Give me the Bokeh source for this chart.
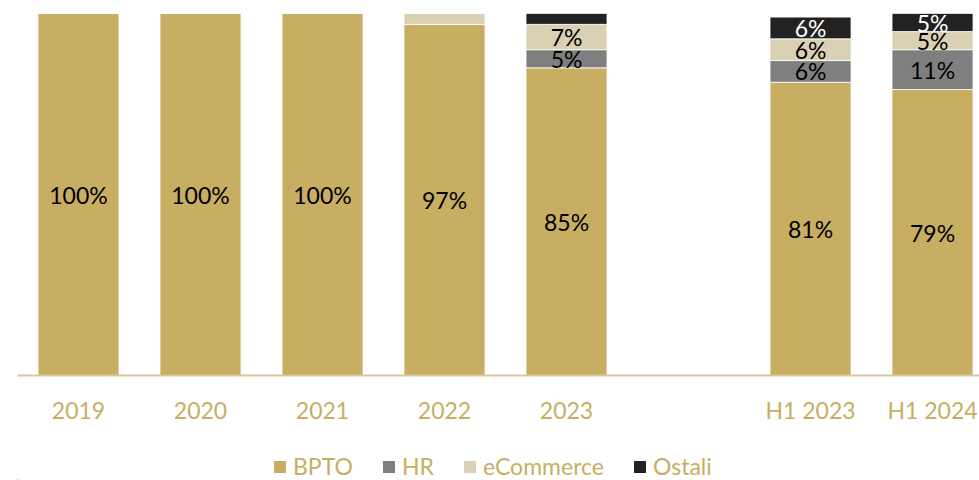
from bokeh.plotting import figure
from bokeh.layouts import column
from bokeh.models import (ColumnDataSource, Range1d, FixedTicker, Legend, LegendItem)
from bokeh.core.properties import value
from bokeh.embed import file_html
from bokeh.resources import INLINE

# Revenue structure by business line (% share)
periods = ["2019", "2020", "2021", "2022", "2023", "H1 2023", "H1 2024"]
slots = [0, 1, 2, 3, 4, 6, 7]          # slot 5 left empty between annual and half-year bars
bpto = [100, 100, 100, 97, 85, 81, 79]
hr = [0, 0, 0, 0, 5, 6, 11]
ecommerce = [0, 0, 0, 3, 7, 6, 5]
ostali = [0, 0, 0, 0, 3, 6, 5]

series = ["BPTO", "HR", "eCommerce", "Ostali"]
values = [bpto, hr, ecommerce, ostali]
colors = ["#C8AE62", "#7F7F7F", "#DAD0B3", "#222222"]
text_colors = ["black", "black", "black", "white"]

GOLD = "#C8AE62"
FONT = "Lato"

src = ColumnDataSource(dict(x=slots, **{s: v for s, v in zip(series, values)}))

p = figure(width=979, height=440,
           x_range=Range1d(-0.5, 7.385), y_range=Range1d(0, 100),
           y_axis_location=None, output_backend="svg", toolbar_location=None,
           min_border_left=17, min_border_right=0, min_border_top=13,
           min_border_bottom=65)
p.outline_line_color = None
p.xgrid.visible = False
p.ygrid.visible = False
p.background_fill_color = "white"
p.border_fill_color = "white"

p.vbar_stack(series, x="x", width=0.664, source=src,
             fill_color=colors, line_color="white", line_width=0.8)

# segment labels, centred in each segment, shown for shares of 5% and above
lx, ly, lt, lc = [], [], [], []
for i, x in enumerate(slots):
    base = 0
    for vals, tc in zip(values, text_colors):
        v = vals[i]
        if v >= 5:
            lx.append(x)
            ly.append(base + v / 2)
            lt.append(f"{v}%")
            lc.append(tc)
        base += v
p.text(x=lx, y=ly, text=lt, text_color=lc, text_align="center",
       text_baseline="middle", text_font=value(FONT), text_font_size="23px")

ax = p.xaxis[0]
ax.ticker = FixedTicker(ticks=slots)
ax.major_label_overrides = {s: lab for s, lab in zip(slots, periods)}
ax.major_tick_line_color = None
ax.minor_tick_line_color = None
ax.axis_line_color = "#D8C79A"
ax.axis_line_width = 2
ax.major_label_standoff = 14
ax.major_label_text_font = FONT
ax.major_label_text_font_size = "23px"
ax.major_label_text_color = GOLD

# legend strip underneath the chart (swatch renderers sit outside the visible range)
lg = figure(width=979, height=40, x_range=Range1d(0, 979), y_range=Range1d(0, 40),
            x_axis_location=None, y_axis_location=None,
            output_backend="svg", toolbar_location=None,
            min_border_left=0, min_border_right=0, min_border_top=0, min_border_bottom=0)
lg.outline_line_color = None
lg.xgrid.visible = False
lg.ygrid.visible = False
swatches = [lg.vbar(x=[-100], top=[1], width=1, fill_color=c, line_color=None)
            for c in colors]
legend = Legend(items=[LegendItem(label=s, renderers=[r]) for s, r in zip(series, swatches)],
                orientation="horizontal", location=(255, 0),
                glyph_width=15, glyph_height=15, label_standoff=6, spacing=28,
                label_text_font=FONT, label_text_font_size="23px",
                label_text_color=GOLD, border_line_color=None,
                background_fill_alpha=0, padding=0, margin=0)
lg.add_layout(legend, "center")

open("out.html", "w").write(file_html(column(p, lg, spacing=0), INLINE))
